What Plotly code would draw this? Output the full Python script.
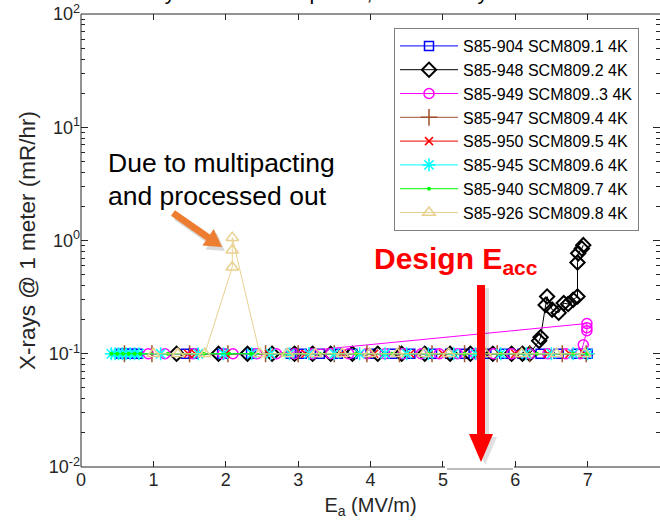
import plotly.graph_objects as go

# ---- data: X-ray level at 1 m versus accelerating gradient, per cavity ----
names = [
    "S85-904 SCM809.1 4K", "S85-948 SCM809.2 4K", "S85-949 SCM809..3 4K",
    "S85-947 SCM809.4 4K", "S85-950 SCM809.5 4K", "S85-945 SCM809.6 4K",
    "S85-940 SCM809.7 4K", "S85-926 SCM809.8 4K",
]

ea_904 = [0.55, 0.62, 0.70, 0.78, 1.45, 1.55, 1.95, 2.35, 2.90, 3.05, 3.30, 3.55, 3.75,
          4.00, 4.30, 4.55, 4.85, 5.10, 5.30, 5.60, 5.85, 6.10, 6.35, 6.60, 6.85, 7.00]
xr_904 = [0.1] * 26

ea_948 = [1.32, 1.90, 2.30, 2.64, 2.95, 3.20, 3.45, 3.75, 4.10, 4.43, 4.75, 5.10, 5.38,
          5.69, 5.95, 6.10, 6.20, 6.33, 6.35, 6.42, 6.44, 6.51, 6.60, 6.67, 6.73, 6.80,
          6.86, 6.86, 6.87, 6.92, 6.94]
xr_948 = [0.1] * 17 + [0.13, 0.14, 0.27, 0.32, 0.245, 0.23, 0.28, 0.275, 0.30,
                       0.32, 0.64, 0.77, 0.85, 0.91]

ea_949 = [0.93, 1.16, 1.55, 1.96, 2.10, 2.43, 2.70, 6.99, 6.99, 6.99, 6.94, 6.90, 6.70,
          6.45, 6.20, 5.95, 5.70, 5.45, 5.20, 4.95, 4.70, 4.45, 4.20, 3.95, 3.70, 3.45,
          3.20, 2.95]
xr_949 = [0.1] * 7 + [0.185, 0.17, 0.16, 0.12] + [0.1] * 17

ea_947 = [0.60, 0.98, 1.50, 2.03, 2.55, 3.00, 3.50, 3.95, 4.40, 4.85, 5.30, 5.75, 6.20,
          6.65, 6.98]
xr_947 = [0.1] * 15

ea_950 = [1.48, 1.58, 1.63, 2.00, 2.60, 3.10, 3.60, 4.05, 4.55, 5.00, 5.50, 6.00, 6.45,
          6.75, 6.95]
xr_950 = [0.1] * 15

ea_945 = [0.42, 0.47, 0.52, 0.57, 0.62, 0.68, 0.74, 0.80, 1.10, 1.62, 1.97, 2.36, 2.62,
          2.88, 3.15, 3.50, 3.85, 4.20, 4.50, 4.80, 5.15, 5.45, 5.80, 6.15, 6.50, 6.80,
          7.00]
xr_945 = [0.1] * 27

ea_940 = [0.42, 0.50, 0.58, 0.66, 0.74, 0.82, 1.20, 1.70, 2.05, 2.35, 2.80, 3.30, 3.80,
          4.30, 4.80, 5.30, 5.80, 6.30, 6.80, 7.00]
xr_940 = [0.1] * 20

ea_926 = [1.00, 1.34, 1.71, 2.09, 2.09, 2.09, 2.47, 2.85, 3.24, 3.61, 3.99, 4.37, 4.74,
          5.08, 5.59, 6.09, 6.57, 6.96]
xr_926 = [0.1, 0.1, 0.1, 0.58, 0.82, 1.06] + [0.1] * 12

x_ticks = [0, 1, 2, 3, 4, 5, 6, 7, 8]
y_ticks = [0.01, 0.1, 1, 10, 100]
y_tick_text = ["10<sup>-2</sup>", "10<sup>-1</sup>", "10<sup>0</sup>",
               "10<sup>1</sup>", "10<sup>2</sup>"]

series_x = [ea_904, ea_948, ea_949, ea_947, ea_950, ea_945, ea_940, ea_926]
series_y = [xr_904, xr_948, xr_949, xr_947, xr_950, xr_945, xr_940, xr_926]

# ---- styles ----
colors = ["#0000FF", "#000000", "#FF00FF", "#A0522D", "#FF0000", "#00FFFF", "#00FF00", "#E8D08E"]
symbols = ["square-open", "diamond-open", "circle-open", "cross-thin-open",
           "x-thin-open", "asterisk-open", "circle", "triangle-up-open"]
sizes = [9, 11, 10, 12, 8, 11, 4, 11]
mwidth = [1.5, 2, 1.5, 1.5, 1.5, 1.5, 0, 1.5]

FONT = "Arial, Liberation Sans, sans-serif"
W, H = 660, 528
L, T = 81, 14
PW, PH = 579, 453  # plot-area size in px


def px(x):
    return (x - L) / PW


def py(y):
    return (T + PH - y) / PH


fig = go.Figure()
for i in range(len(names)):
    fig.add_trace(go.Scatter(
        x=series_x[i], y=series_y[i], name=names[i], mode="lines+markers",
        line=dict(color=colors[i], width=1),
        marker=dict(symbol=symbols[i], size=sizes[i], color=colors[i],
                    line=dict(color=colors[i], width=mwidth[i])),
    ))

shapes = []

# axes box (left, top, bottom with a patched gap near x = 5..6)
ax_col = "#262626"
shapes += [
    dict(type="line", xref="paper", yref="paper", x0=0, x1=0, y0=0, y1=1,
         line=dict(color=ax_col, width=1)),
    dict(type="line", xref="paper", yref="paper", x0=0, x1=1, y0=1, y1=1,
         line=dict(color=ax_col, width=1)),
    dict(type="line", xref="paper", yref="paper", x0=0, x1=px(445), y0=0, y1=0,
         line=dict(color=ax_col, width=1)),
    dict(type="line", xref="paper", yref="paper", x0=px(514), x1=1, y0=0, y1=0,
         line=dict(color=ax_col, width=1)),
    dict(type="line", xref="paper", yref="paper", x0=px(447), x1=px(513),
         y0=py(469), y1=py(469), line=dict(color="#A8A8A8", width=1.5)),
]


def poly_path(pts, dx=0, dy=0):
    s = "M " + " L ".join(f"{px(a + dx):.5f},{py(b + dy):.5f}" for a, b in pts)
    return s + " Z"


# red "design gradient" arrow
cx = 481
red_pts = [(cx - 4, 285), (cx + 4, 285), (cx + 4, 434), (cx + 12, 434), (cx, 462),
           (cx - 12, 434), (cx - 4, 434)]
shapes.append(dict(type="path", xref="paper", yref="paper", path=poly_path(red_pts, 4, 3),
                   fillcolor="rgba(0,0,0,0.12)", line=dict(width=0)))
shapes.append(dict(type="path", xref="paper", yref="paper", path=poly_path(red_pts),
                   fillcolor="#FF0000", line=dict(width=0)))

# orange arrow pointing at the multipacting spike
tx, ty = 173, 213
hx, hy = 222, 247
dx, dy = hx - tx, hy - ty
ln = (dx * dx + dy * dy) ** 0.5
ux, uy = dx / ln, dy / ln
nx, ny = -uy, ux
sw, hw, hl = 3.5, 10, 17
bx, by = hx - ux * hl, hy - uy * hl
org_pts = [(tx + nx * sw, ty + ny * sw), (bx + nx * sw, by + ny * sw),
           (bx + nx * hw, by + ny * hw), (hx, hy), (bx - nx * hw, by - ny * hw),
           (bx - nx * sw, by - ny * sw), (tx - nx * sw, ty - ny * sw)]
shapes.append(dict(type="path", xref="paper", yref="paper", path=poly_path(org_pts, 3, 4),
                   fillcolor="rgba(0,0,0,0.15)", line=dict(width=0)))
shapes.append(dict(type="path", xref="paper", yref="paper", path=poly_path(org_pts),
                   fillcolor="#ED7D31", line=dict(width=0)))

annotations = [
    dict(text="Due to multipacting", x=px(106), y=py(163), xref="paper", yref="paper",
         xanchor="left", yanchor="middle", showarrow=False,
         font=dict(family=FONT, size=26.5, color="#000000")),
    dict(text="and processed out", x=px(106), y=py(196), xref="paper", yref="paper",
         xanchor="left", yanchor="middle", showarrow=False,
         font=dict(family=FONT, size=26.5, color="#000000")),
    dict(text="<b>Design E<sub>acc</sub></b>", x=px(372), y=py(260), xref="paper",
         yref="paper", xanchor="left", yanchor="middle", showarrow=False,
         font=dict(family=FONT, size=30, color="#FF0000")),
]

minor_vals = [m * 10 ** e for e in (-2, -1, 0, 1) for m in range(2, 10)]

fig.update_layout(
    width=W, height=H,
    margin=dict(l=L, r=W - L - PW, t=T, b=H - T - PH),
    paper_bgcolor="white", plot_bgcolor="white",
    font=dict(family=FONT, color="#262626"),
    title=dict(text="X-rays for SCM809 phase, sessions by slot", x=125 / W, xanchor="left",
               xref="container", yref="container", y=1.0, yanchor="bottom",
               font=dict(family=FONT, size=21, color="#000000")),
    showlegend=True,
    legend=dict(x=px(394), y=py(28), xanchor="left", yanchor="top",
                bgcolor="white", bordercolor="#808080", borderwidth=1,
                font=dict(family=FONT, size=16, color="#000000"),
                tracegroupgap=0, itemwidth=58),
    xaxis=dict(range=[0, 8], tickvals=x_ticks, ticks="inside", ticklen=6,
               tickcolor=ax_col, mirror="ticks", showline=False, showgrid=False,
               zeroline=False, tickfont=dict(family=FONT, size=18, color="#262626"),
               title=dict(text="E<sub>a</sub> (MV/m)", standoff=8,
                          font=dict(family=FONT, size=20, color="#262626"))),
    yaxis=dict(type="log", range=[-2, 2], tickvals=y_ticks, ticktext=y_tick_text,
               ticks="inside", ticklen=7, tickcolor=ax_col, mirror="ticks",
               showline=False, showgrid=False, zeroline=False,
               minor=dict(tickvals=minor_vals, ticks="inside", ticklen=4, tickcolor=ax_col),
               tickfont=dict(family=FONT, size=18, color="#262626"),
               title=dict(text="X-rays @ 1 meter (mR/hr)", standoff=6,
                          font=dict(family=FONT, size=22.5, color="#262626"))),
    shapes=shapes,
    annotations=annotations,
)

fig.write_html("out.html")
